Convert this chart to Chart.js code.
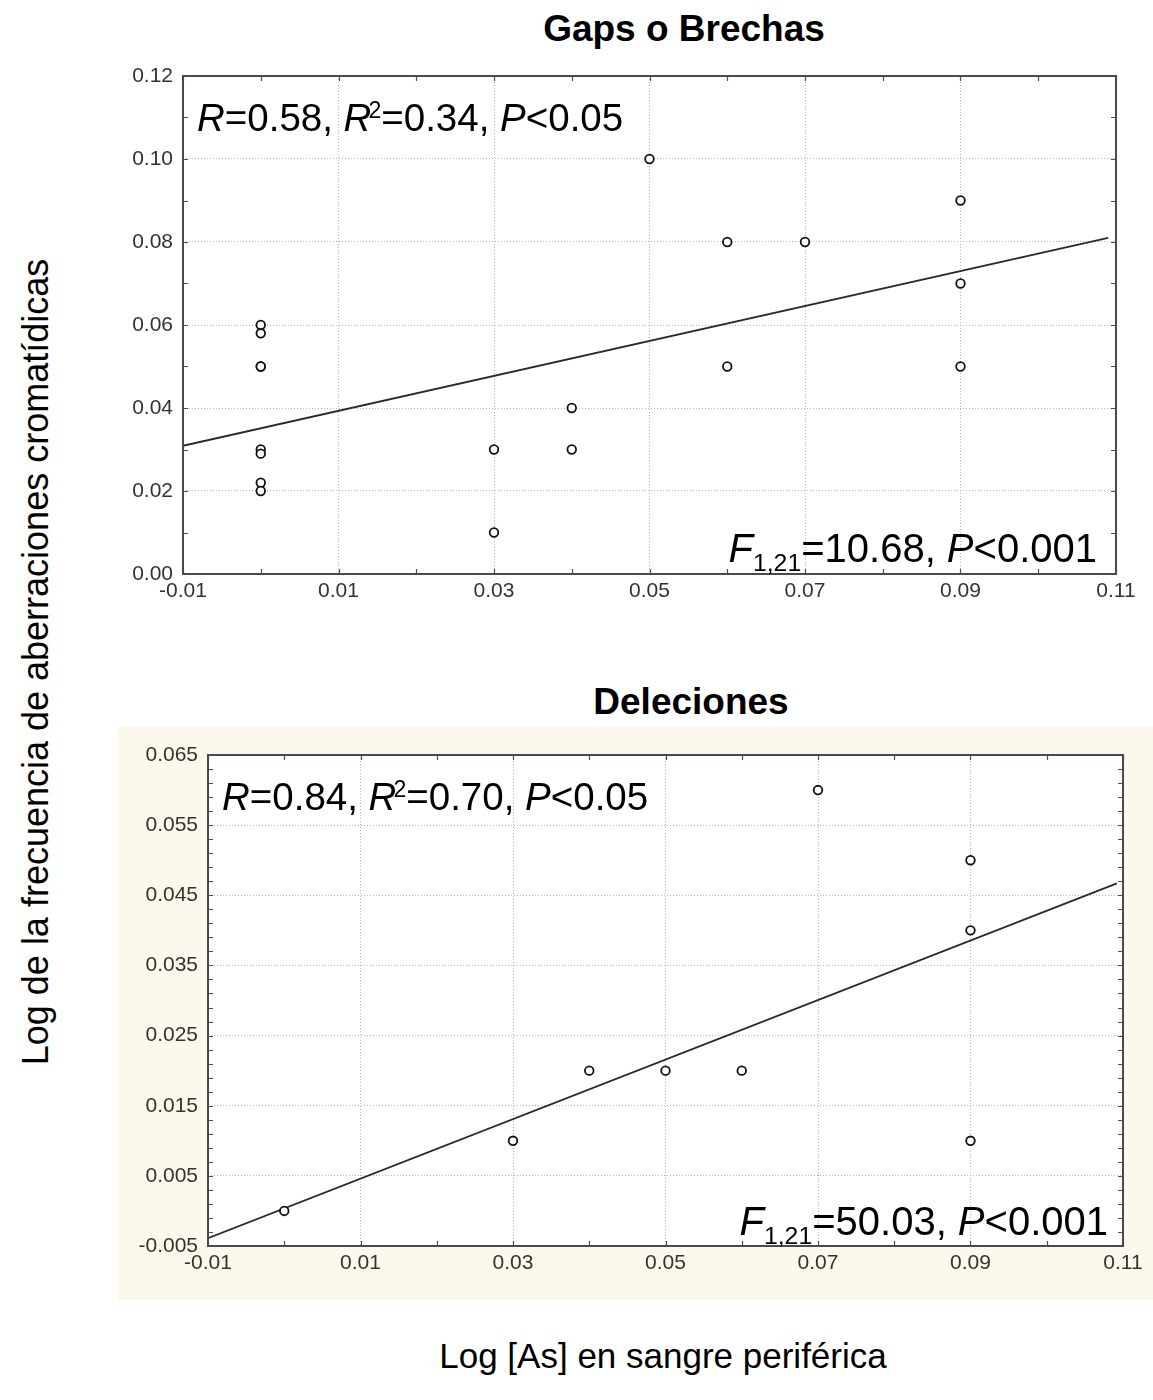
<!DOCTYPE html>
<html>
<head>
<meta charset="utf-8">
<script src="https://cdn.jsdelivr.net/npm/chart.js@4"></script>
<style>
  html, body { margin: 0; padding: 0; background: #ffffff; }
  #page { position: relative; width: 1153px; height: 1400px; overflow: hidden; background: #ffffff;
          font-family: 'Liberation Sans', Arial, Helvetica, sans-serif; color: #000; }
  .title { position: absolute; font-weight: bold; font-size: 37px; line-height: 37px; text-align: center; white-space: nowrap; }
  .axt { position: absolute; font-size: 35px; line-height: 35px; white-space: nowrap; }
  #panel2 { position: absolute; left: 118px; top: 727px; width: 1035px; height: 573px; background: #fcf8ec; }
  canvas { position: absolute; }
</style>
</head>
<body>
<div id="page">
  <div class="title" style="left:434px; width:500px; top:10px;">Gaps o Brechas</div>
  <div class="title" style="left:441px; width:500px; top:683px;">Deleciones</div>
  <div id="panel2"></div>
  <div style="position:absolute; left:100px; top:50px; width:1053px; height:574px;"><canvas id="c1"></canvas></div>
  <div style="position:absolute; left:118px; top:727px; width:1035px; height:573px;"><canvas id="c2"></canvas></div>
  <div class="axt" style="left:35px; top:662px; font-size:36px; transform: translate(-50%,-50%) rotate(-90deg);">Log de la frecuencia de aberraciones cromatídicas</div>
  <div class="axt" style="left:413px; width:500px; text-align:center; top:1338px;">Log [As] en sangre periférica</div>
</div>
<script>
// ---------- DATA ----------
// Gaps o Brechas
const gapsX = [0.00, 0.00, 0.00, 0.00, 0.00, 0.00, 0.00, 0.00, 0.03, 0.03, 0.04, 0.04, 0.05, 0.06, 0.06, 0.07, 0.09, 0.09, 0.09];
const gapsY = [0.060, 0.058, 0.050, 0.050, 0.030, 0.029, 0.022, 0.020, 0.030, 0.010, 0.040, 0.030, 0.100, 0.080, 0.050, 0.080, 0.090, 0.070, 0.050];
const gapsFitX = [-0.010, 0.109];
const gapsFitY = [0.0309, 0.0810];
const gapsXTicks = [-0.01, 0.01, 0.03, 0.05, 0.07, 0.09, 0.11];
const gapsXLabels = ['-0.01', '0.01', '0.03', '0.05', '0.07', '0.09', '0.11'];
const gapsYTicks = [0.00, 0.02, 0.04, 0.06, 0.08, 0.10, 0.12];
const gapsYLabels = ['0.00', '0.02', '0.04', '0.06', '0.08', '0.10', '0.12'];

// Deleciones
const delX = [0.00, 0.03, 0.04, 0.05, 0.06, 0.07, 0.09, 0.09, 0.09];
const delY = [0.000, 0.010, 0.020, 0.020, 0.020, 0.060, 0.050, 0.040, 0.010];
const delFitX = [-0.010, 0.1092];
const delFitY = [-0.0039, 0.0467];
const delXTicks = [-0.01, 0.01, 0.03, 0.05, 0.07, 0.09, 0.11];
const delXLabels = ['-0.01', '0.01', '0.03', '0.05', '0.07', '0.09', '0.11'];
const delYTicks = [-0.005, 0.005, 0.015, 0.025, 0.035, 0.045, 0.055, 0.065];
const delYLabels = ['-0.005', '0.005', '0.015', '0.025', '0.035', '0.045', '0.055', '0.065'];

// annotation texts
const gapsStatTop = [{t:'R', i:1}, {t:'=0.58, '}, {t:'R', i:1}, {t:'2', sup:1}, {t:'=0.34, '}, {t:'P', i:1}, {t:'<0.05'}];
const gapsStatBot = [{t:'F', i:1}, {t:'1,21', sub:1}, {t:'=10.68, '}, {t:'P', i:1}, {t:'<0.001'}];
const delStatTop  = [{t:'R', i:1}, {t:'=0.84, '}, {t:'R', i:1}, {t:'2', sup:1}, {t:'=0.70, '}, {t:'P', i:1}, {t:'<0.05'}];
const delStatBot  = [{t:'F', i:1}, {t:'1,21', sub:1}, {t:'=50.03, '}, {t:'P', i:1}, {t:'<0.001'}];

// ---------- HELPERS ----------
const FONT = "'Liberation Sans', Arial, Helvetica, sans-serif";
function pts(xs, ys) { return xs.map((x, i) => ({x: x, y: ys[i]})); }
function range(a, b, step) { const out = []; const n = Math.round((b - a) / step); for (let k = 0; k <= n; k++) out.push(+(a + k * step).toFixed(6)); return out; }

function segFont(s, size) {
  if (s.sup) return (size * 0.6) + 'px ' + FONT;
  if (s.sub) return (size * 0.62) + 'px ' + FONT;
  return (s.i ? 'italic ' : '') + size + 'px ' + FONT;
}
function segWidth(ctx, segs, size) {
  let w = 0;
  segs.forEach(s => { ctx.font = segFont(s, size); w += ctx.measureText(s.t).width + (s.sup ? -3 : 0); });
  return w;
}
function drawRich(ctx, segs, x, y, size, align) {
  if (align === 'right') x -= segWidth(ctx, segs, size);
  ctx.fillStyle = '#000';
  ctx.textAlign = 'left';
  ctx.textBaseline = 'alphabetic';
  segs.forEach(s => {
    ctx.font = segFont(s, size);
    let dy = 0, dx = 0;
    if (s.sup) { dy = -size * 0.33; dx = -3; }
    if (s.sub) { dy = size * 0.22; }
    ctx.fillText(s.t, x + dx, y + dy);
    x += ctx.measureText(s.t).width + dx;
  });
}

const framePlugin = {
  id: 'framePlugin',
  beforeDraw(chart) {
    const a = chart.chartArea, ctx = chart.ctx;
    ctx.save(); ctx.fillStyle = '#ffffff'; ctx.fillRect(a.left, a.top, a.right - a.left, a.bottom - a.top); ctx.restore();
  },
  afterDraw(chart, args, o) {
    const a = chart.chartArea, ctx = chart.ctx, xs = chart.scales.x, ys = chart.scales.y;
    ctx.save();
    ctx.strokeStyle = '#4d4d4d';
    ctx.lineWidth = 1.2;
    // inward minor ticks
    const L = 5;
    ctx.beginPath();
    o.xMinor.forEach(v => {
      const px = Math.round(xs.getPixelForValue(v)) + 0.5;
      ctx.moveTo(px, a.bottom); ctx.lineTo(px, a.bottom - L);
      ctx.moveTo(px, a.top); ctx.lineTo(px, a.top + L);
    });
    o.yMinor.forEach(v => {
      const py = Math.round(ys.getPixelForValue(v)) + 0.5;
      ctx.moveTo(a.left, py); ctx.lineTo(a.left + L, py);
      ctx.moveTo(a.right, py); ctx.lineTo(a.right - L, py);
    });
    ctx.stroke();
    // frame
    ctx.lineWidth = 2;
    ctx.strokeStyle = '#4a4a4a';
    ctx.strokeRect(a.left, a.top, a.right - a.left, a.bottom - a.top);
    // statistics text
    drawRich(ctx, o.topText, a.left + 14, a.top + 55, 38.5, 'left');
    drawRich(ctx, o.botText, a.right - o.botRight, a.bottom - o.botUp, 40, 'right');
    ctx.restore();
  }
};

function makeChart(id, cfg) {
  const fixTicks = (vals) => (scale) => { scale.ticks = vals.map(v => ({value: v})); };
  return new Chart(document.getElementById(id), {
    type: 'scatter',
    data: {
      datasets: [
        { type: 'line', data: pts(cfg.fitX, cfg.fitY), borderColor: '#2a2a2a', borderWidth: 1.8,
          pointRadius: 0, fill: false, tension: 0, order: 2 },
        { data: pts(cfg.x, cfg.y), pointStyle: 'circle', pointRadius: 4.3, borderWidth: 1.8,
          borderColor: '#111111', backgroundColor: '#ffffff', order: 1 }
      ]
    },
    options: {
      responsive: true, maintainAspectRatio: false, animation: false,
      devicePixelRatio: 1,
      layout: { padding: cfg.padding },
      plugins: { legend: { display: false }, tooltip: { enabled: false },
        framePlugin: { xMinor: cfg.xMinor, yMinor: cfg.yMinor, topText: cfg.topText, botText: cfg.botText,
                       botRight: cfg.botRight, botUp: cfg.botUp } },
      scales: {
        x: {
          type: 'linear', min: cfg.xTicks[0], max: cfg.xTicks[cfg.xTicks.length - 1],
          afterBuildTicks: fixTicks(cfg.xTicks),
          afterFit: (s) => { s.height = 40; },
          border: { display: false, dash: [1, 2] },
          grid: { color: '#b4b4b4', lineWidth: 1, drawTicks: false },
          ticks: { autoSkip: false, maxRotation: 0, padding: 5, color: '#333333',
                   font: { family: FONT, size: 21 },
                   callback: (v, i) => cfg.xLabels[i] }
        },
        y: {
          type: 'linear', min: cfg.yTicks[0], max: cfg.yTicks[cfg.yTicks.length - 1],
          afterBuildTicks: fixTicks(cfg.yTicks),
          afterFit: (s) => { s.width = cfg.yWidth; },
          border: { display: false, dash: [1, 2] },
          grid: { color: '#b4b4b4', lineWidth: 1, drawTicks: false },
          ticks: { autoSkip: false, padding: 10, color: '#333333',
                   font: { family: FONT, size: 21 },
                   callback: (v, i) => cfg.yLabels[i] }
        }
      }
    },
    plugins: [framePlugin]
  });
}

makeChart('c1', {
  x: gapsX, y: gapsY, fitX: gapsFitX, fitY: gapsFitY,
  xTicks: gapsXTicks, xLabels: gapsXLabels, yTicks: gapsYTicks, yLabels: gapsYLabels,
  xMinor: range(-0.01, 0.11, 0.01), yMinor: range(0, 0.12, 0.01),
  padding: { left: 0, right: 37, top: 26, bottom: 10 }, yWidth: 83,
  topText: gapsStatTop, botText: gapsStatBot, botRight: 19, botUp: 12
});

makeChart('c2', {
  x: delX, y: delY, fitX: delFitX, fitY: delFitY,
  xTicks: delXTicks, xLabels: delXLabels, yTicks: delYTicks, yLabels: delYLabels,
  xMinor: range(-0.01, 0.11, 0.01), yMinor: range(-0.005, 0.065, 0.002),
  padding: { left: 0, right: 30, top: 28, bottom: 14 }, yWidth: 90,
  topText: delStatTop, botText: delStatBot, botRight: 15, botUp: 11
});
</script>
</body>
</html>
